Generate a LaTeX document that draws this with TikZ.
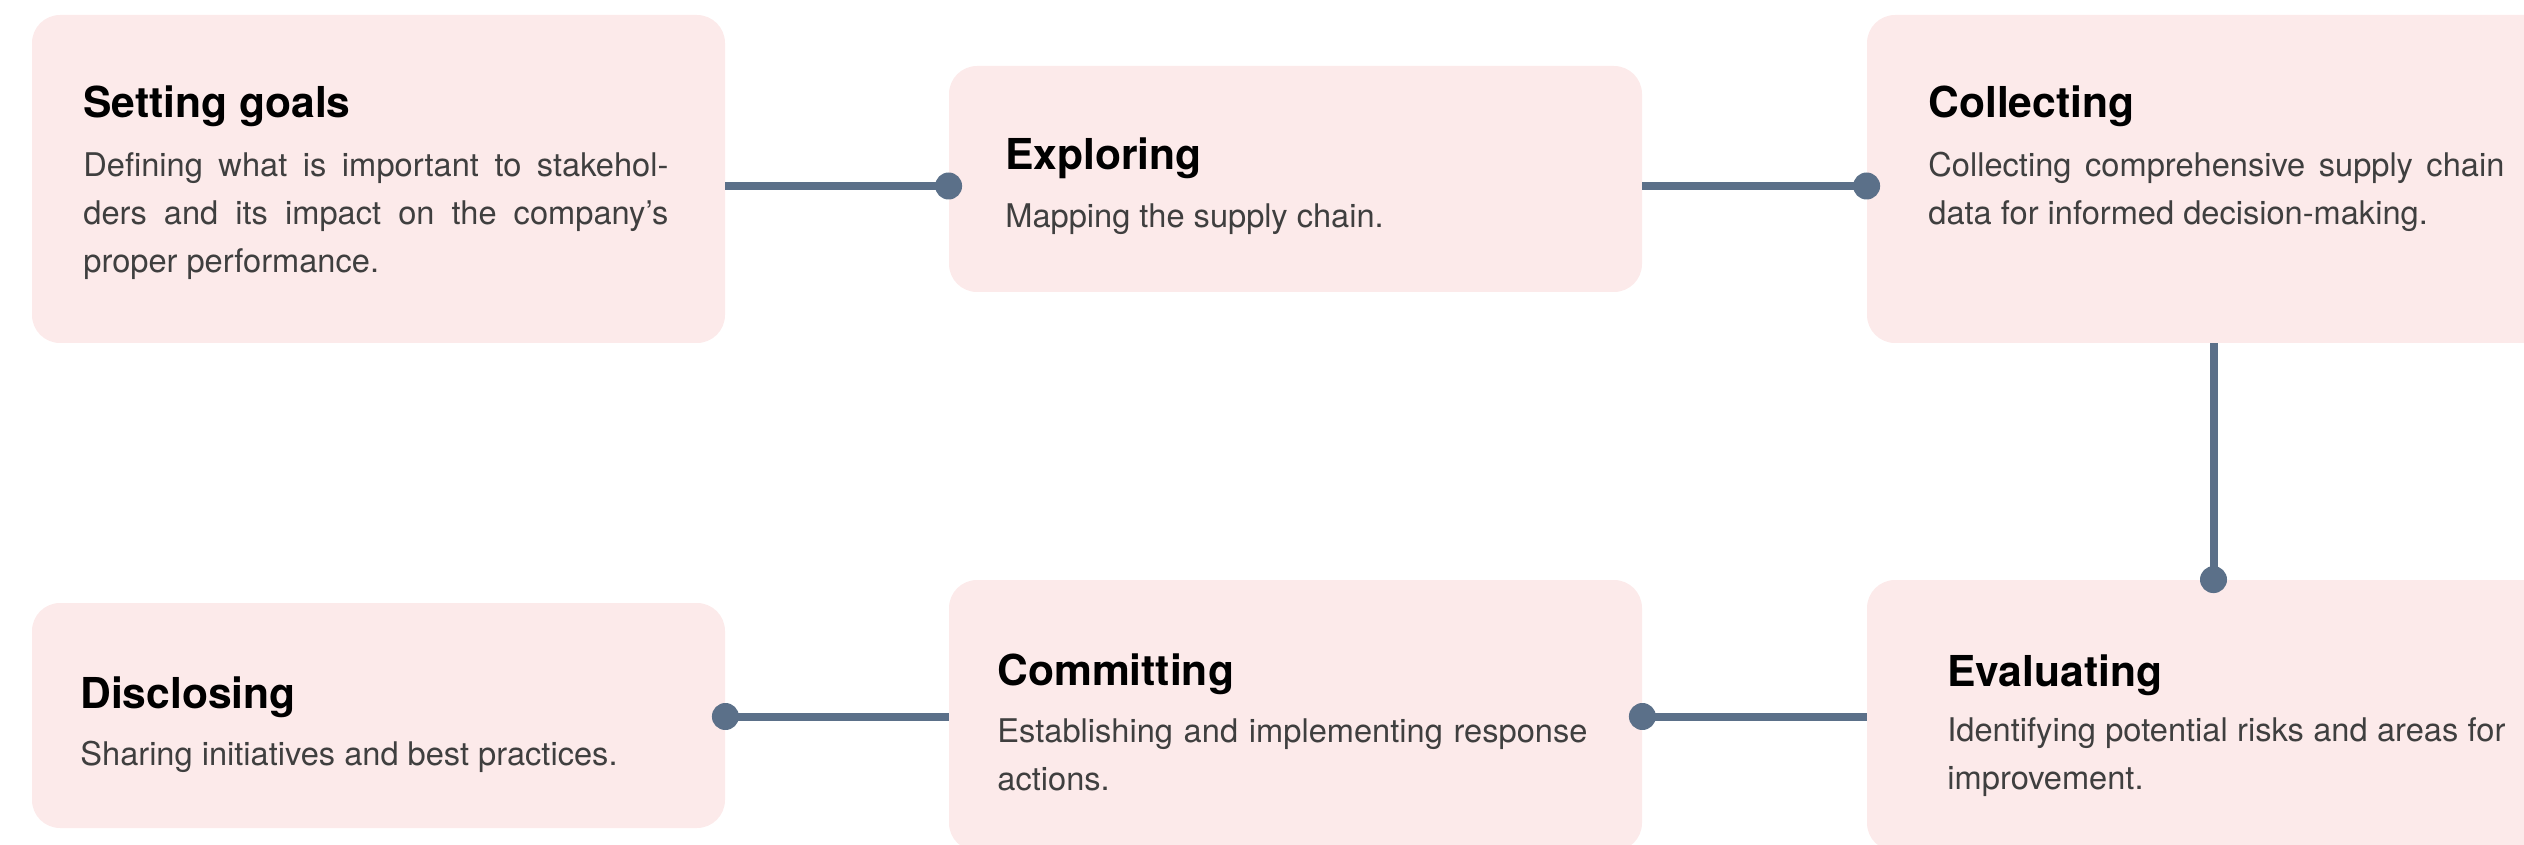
\documentclass[tikz,border=0pt]{standalone}
\usepackage{fontspec}
\setmainfont{TeX Gyre Heros}
\definecolor{cardpink}{HTML}{FCEAEA}
\definecolor{linkblue}{HTML}{5B7089}
\definecolor{bodygray}{HTML}{3F3F3F}
\tolerance=10000
\hbadness=10000
\hyphenpenalty=10000
\exhyphenpenalty=10000
\begin{document}
\begin{tikzpicture}[x=0.5pt,y=-0.5pt,
  card/.style={rectangle, rounded corners=14pt, fill=cardpink, draw=none,
    minimum width=346.5pt, inner sep=0pt},
  cardtitle/.style={anchor=base west, inner sep=0pt, text=black,
    font=\fontsize{21.3pt}{24pt}\selectfont\bfseries},
  cardbody/.style={anchor=base west, inner sep=0pt, text=bodygray,
    font=\fontsize{16.3pt}{24pt}\selectfont},
  link/.style={draw=linkblue, line width=4pt},
  dot/.style={circle, fill=linkblue, draw=none, inner sep=0pt, minimum size=13.5pt}]

\useasboundingbox (0,0) rectangle (2524,845);
\clip (0,0) rectangle (2524,845);

% process cards
\node[card, minimum height=164pt]   (goals)    at (378.5,179)  {};
\node[card, minimum height=113pt]   (explore)  at (1295.5,179) {};
\node[card, minimum height=164pt]   (collect)  at (2213.5,179) {};
\node[card, minimum height=112.5pt] (disclose) at (378.5,715.5) {};
\node[card, minimum height=135.5pt] (commit)   at (1295.5,715.5) {};
\node[card, minimum height=135.5pt] (evaluate) at (2213.5,715.5) {};

% connectors with end dots
\draw[link] ([yshift=-3.5pt]goals.east) -- ([yshift=-3.5pt]explore.west) node[dot] (d1) {};
\draw[link] ([yshift=-3.5pt]explore.east) -- ([yshift=-3.5pt]collect.west) node[dot] (d2) {};
\draw[link] (collect.south) -- (evaluate.north) node[dot] (d3) {};
\draw[link] ([yshift=-0.5pt]evaluate.west) -- ([yshift=-0.5pt]commit.east) node[dot] (d4) {};
\draw[link] ([yshift=-0.5pt]commit.west) -- ([yshift=-0.5pt]disclose.east) node[dot] (d5) {};

% texts
\node[cardtitle] (goalsT) at (83,118) {Setting goals};
\node[cardbody, text width=292.5pt, align=justify] (goalsB) at (83,177)
  {Defining what is important to stakehol-\linebreak ders and its impact on the company’s\linebreak proper performance.};

\node[cardtitle] (exploreT) at (1005,170) {Exploring};
\node[cardbody] (exploreB) at (1005,228) {Mapping the supply chain.};

\node[cardtitle] (collectT) at (1928,118) {Collecting};
\node[cardbody, text width=288pt, align=justify] (collectB) at (1928,177)
  {Collecting comprehensive supply chain\linebreak data for informed decision-making.};

\node[cardtitle] (discloseT) at (80,708) {Disclosing};
\node[cardbody] (discloseB) at (80,765) {Sharing initiatives and best practices.};

\node[cardtitle] (commitT) at (997,685) {Committing};
\node[cardbody, text width=295pt, align=justify] (commitB) at (997,742)
  {Establishing and implementing response\linebreak actions.};

\node[cardtitle] (evaluateT) at (1947,686) {Evaluating};
\node[cardbody, text width=279pt, align=justify] (evaluateB) at (1947,741)
  {Identifying potential risks and areas for\linebreak improvement.};
\end{tikzpicture}
\end{document}
